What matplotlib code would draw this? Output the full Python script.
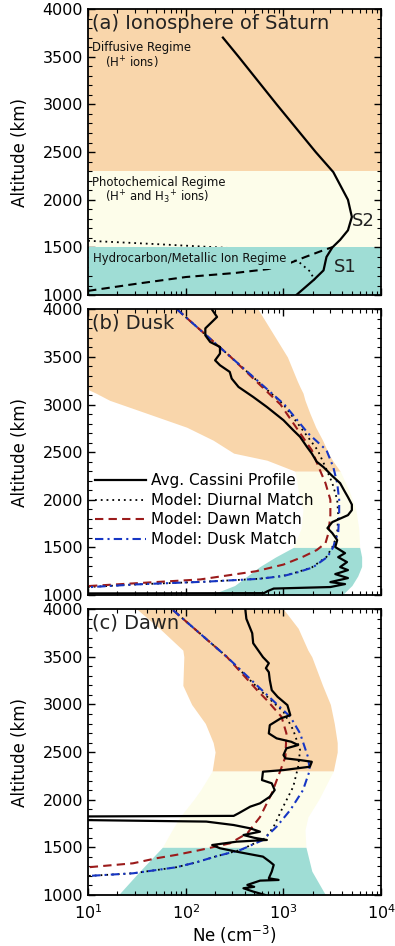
import numpy as np
import matplotlib
matplotlib.use("Agg")
import matplotlib.pyplot as plt
from matplotlib.ticker import LogLocator, MultipleLocator, NullFormatter

plt.rcParams['font.family'] = ['DejaVu Sans']
plt.rcParams['mathtext.fontset'] = 'dejavusans'

# colours of the regimes and model lines
ORANGE = '#F9D6AB'
CREAM = '#FDFDEA'
TEAL = '#9FDDD5'
DARKRED = '#9B1B1B'
BLUE = '#1636C4'

# ---- data: (altitude km, log10 Ne) ----
# (a) generic profile
a_solid = [(3700, 2.38), (3500, 2.54), (3000, 2.93), (2500, 3.33), (2290, 3.51),
           (2000, 3.66), (1820, 3.70), (1680, 3.66), (1580, 3.58), (1500, 3.50),
           (1400, 3.44), (1260, 3.41), (1160, 3.31), (1000, 3.13)]
a_dot = [(1570, 1.0), (1535, 1.7), (1496, 2.42), (1440, 2.9), (1346, 3.16),
         (1250, 3.27), (1157, 3.32)]
a_dash = [(1045, 1.0), (1120, 1.5), (1190, 2.0), (1232, 2.5), (1273, 2.84),
          (1330, 3.05), (1399, 3.22), (1460, 3.38), (1503, 3.50)]

# (b) dusk
b_cassini = [(3995, 2.27), (3920, 2.32), (3800, 2.20), (3727, 2.20), (3657, 2.25),
             (3605, 2.35), (3535, 2.35), (3465, 2.30), (3413, 2.35), (3343, 2.45),
             (3273, 2.47), (3185, 2.54), (3080, 2.69), (2975, 2.83), (2836, 3.00),
             (2731, 3.10), (2661, 3.17), (2556, 3.24), (2486, 3.29), (2400, 3.34),
             (2343, 3.41), (2250, 3.50), (2175, 3.58), (2100, 3.62), (2028, 3.66),
             (1950, 3.70), (1892, 3.70), (1839, 3.66), (1766, 3.50), (1703, 3.45),
             (1650, 3.50), (1577, 3.55), (1504, 3.53), (1440, 3.63), (1398, 3.56),
             (1346, 3.65), (1294, 3.58), (1262, 3.66), (1220, 3.53), (1178, 3.66),
             (1136, 3.48), (1115, 3.63), (1084, 3.48), (1068, 2.90), (1042, 2.84),
             (1020, 2.80), (1016, 0.5)]
b_diurnal = [(4000, 1.91), (3500, 2.46), (3000, 3.00), (2700, 3.22), (2521, 3.35),
             (2343, 3.43), (2175, 3.50), (2000, 3.55), (1840, 3.56), (1650, 3.55),
             (1577, 3.53), (1504, 3.50), (1400, 3.44), (1290, 3.29), (1240, 3.14),
             (1200, 2.99), (1170, 2.74), (1140, 2.20), (1112, 1.50), (1084, 1.0)]
b_dawn = [(4000, 1.91), (3500, 2.46), (3000, 2.97), (2700, 3.17), (2521, 3.29),
          (2343, 3.36), (2175, 3.43), (2000, 3.48), (1840, 3.48), (1650, 3.46),
          (1545, 3.43), (1472, 3.34), (1402, 3.20), (1320, 3.00), (1250, 2.72),
          (1164, 2.15), (1122, 1.46), (1094, 1.0)]
b_dusk = [(4000, 1.91), (3500, 2.46), (3000, 3.01), (2700, 3.25), (2521, 3.44),
          (2343, 3.51), (2175, 3.55), (2000, 3.57), (1840, 3.57), (1650, 3.56),
          (1577, 3.53), (1504, 3.51), (1400, 3.45), (1290, 3.30), (1240, 3.15),
          (1200, 3.00), (1170, 2.75), (1140, 2.20), (1112, 1.50), (1082, 1.0)]
# shaded ranges: (altitude, left log10 Ne, right log10 Ne)
b_orange = [(4000, 0.5, 2.74), (3500, 0.5, 3.04), (3250, 0.5, 3.14), (3182, 0.95, 3.17),
            (3120, 1.08, 3.20), (3045, 1.22, 3.22), (2909, 1.60, 3.27), (2762, 2.01, 3.33),
            (2626, 2.28, 3.40), (2490, 2.49, 3.46), (2416, 2.83, 3.50), (2300, 3.12, 3.58)]
b_cream = [(2300, 3.12, 3.58), (2100, 3.15, 3.67), (1900, 3.20, 3.74),
           (1700, 3.18, 3.77), (1500, 3.10, 3.78)]
b_teal = [(1500, 3.10, 3.78), (1400, 2.92, 3.80), (1300, 2.76, 3.80),
          (1200, 2.63, 3.76), (1100, 2.50, 3.70), (1000, 2.25, 3.60)]

# (c) dawn
c_cassini = [(3995, 2.61), (3900, 2.62), (3748, 2.68), (3643, 2.69), (3497, 2.79),
             (3433, 2.85), (3381, 2.82), (3339, 2.85), (3255, 2.86), (3150, 2.88),
             (3080, 2.94), (2993, 3.04), (2888, 3.07), (2853, 2.97), (2783, 2.86),
             (2696, 2.85), (2644, 2.93), (2608, 3.08), (2574, 3.15), (2539, 3.03),
             (2469, 3.00), (2434, 3.02), (2416, 3.17), (2398, 3.29), (2346, 3.27),
             (2311, 3.00), (2294, 2.79), (2206, 2.78), (2172, 2.88), (2101, 2.91),
             (2031, 2.86), (1962, 2.76), (1927, 2.66), (1857, 2.54), (1830, 2.49),
             (1822, 0.5), (1792, 0.5), (1770, 2.21), (1734, 2.49), (1699, 2.66),
             (1664, 2.76), (1629, 2.59), (1600, 2.70), (1577, 2.83), (1559, 2.52),
             (1524, 2.27), (1490, 2.35), (1454, 2.52), (1402, 2.79), (1349, 2.86),
             (1315, 2.90), (1245, 2.88), (1175, 2.85), (1157, 2.95), (1150, 2.76),
             (1105, 2.63), (1085, 2.70), (1070, 2.59), (1035, 2.69), (1000, 2.81)]
c_diurnal = [(3990, 1.87), (3500, 2.42), (3150, 2.76), (2923, 3.00), (2731, 3.10),
             (2521, 3.17), (2346, 3.15), (2136, 3.10), (1892, 2.98), (1717, 2.90),
             (1594, 2.81), (1472, 2.56), (1402, 2.30), (1340, 2.10), (1290, 1.90),
             (1227, 1.46), (1199, 1.0)]
c_dawn = [(3990, 1.87), (3500, 2.42), (3150, 2.73), (3045, 2.83), (2870, 2.98),
          (2696, 3.03), (2451, 3.02), (2311, 2.97), (2066, 2.88), (1818, 2.76),
          (1647, 2.63), (1541, 2.45), (1472, 2.15), (1420, 1.90), (1385, 1.70),
          (1332, 1.46), (1290, 1.0)]
c_dusk = [(3990, 1.87), (3500, 2.42), (3150, 2.78), (2870, 3.07), (2696, 3.17),
          (2451, 3.25), (2311, 3.27), (2101, 3.20), (1892, 3.07), (1717, 2.93),
          (1577, 2.79), (1472, 2.56), (1402, 2.30), (1340, 2.10), (1290, 1.90),
          (1227, 1.46), (1199, 1.0)]
c_orange = [(4000, 1.50, 3.00), (3800, 1.73, 3.15), (3570, 1.97, 3.25), (3500, 1.98, 3.29),
            (3200, 1.97, 3.40), (3000, 2.06, 3.48), (2800, 2.20, 3.52), (2600, 2.28, 3.55),
            (2500, 2.30, 3.55), (2300, 2.27, 3.51)]
c_cream = [(2300, 2.27, 3.51), (2100, 2.15, 3.41), (2000, 2.08, 3.36),
           (1818, 1.94, 3.25), (1682, 1.86, 3.22), (1500, 1.76, 3.23)]
c_teal = [(1500, 1.76, 3.23), (1250, 1.53, 3.29), (1000, 1.31, 3.43)]

legend_labels = ['Avg. Cassini Profile', 'Model: Diurnal Match',
                 'Model: Dawn Match', 'Model: Dusk Match']
panel_titles = ['(a) Ionosphere of Saturn', '(b) Dusk', '(c) Dawn']

SOLID = dict(color='k', lw=1.6)
DOTTED = dict(color='k', lw=1.3, ls=(0, (1, 2.2)))
DASHED = dict(color=DARKRED, lw=1.5, ls=(0, (4, 2.5)))
DASHDOT = dict(color=BLUE, lw=1.5, ls=(0, (4, 2, 1, 2)))


def prof(pairs):
    arr = np.array(pairs, dtype=float)
    return 10 ** arr[:, 1], arr[:, 0]


def shade(ax, rows, color):
    arr = np.array(rows, dtype=float)
    ax.fill_betweenx(arr[:, 0], 10 ** arr[:, 1], 10 ** arr[:, 2],
                     color=color, lw=0, zorder=0)


def setup(ax, title, bottom=False):
    ax.set_xscale('log')
    ax.set_xlim(10, 1e4)
    ax.set_ylim(1000, 4000)
    ax.xaxis.set_major_locator(LogLocator(base=10, numticks=10))
    ax.xaxis.set_minor_locator(LogLocator(base=10, subs=np.arange(2, 10), numticks=10))
    ax.xaxis.set_minor_formatter(NullFormatter())
    ax.yaxis.set_major_locator(MultipleLocator(500))
    ax.yaxis.set_minor_locator(MultipleLocator(100))
    ax.tick_params(which='both', direction='in', top=True, right=True, labelsize=11.5)
    ax.tick_params(which='major', length=5, width=1.0)
    ax.tick_params(which='minor', length=2.8, width=0.8)
    ax.tick_params(axis='x', pad=6)
    if not bottom:
        ax.set_xticklabels([])
    for s in ax.spines.values():
        s.set_linewidth(1.3)
    ax.set_ylabel('Altitude (km)', fontsize=12)
    ax.yaxis.set_label_coords(-0.2, 0.5)
    ax.text(0.012, 0.951, title, transform=ax.transAxes, fontsize=14,
            va='center', ha='left', color='#222222')


fig = plt.figure(figsize=(3.95, 9.46), dpi=100)
ax_a = fig.add_axes([0.223, 0.688, 0.742, 0.3025])
ax_b = fig.add_axes([0.223, 0.371, 0.742, 0.302])
ax_c = fig.add_axes([0.223, 0.054, 0.742, 0.302])

# ---- (a) ----
setup(ax_a, panel_titles[0])
ax_a.axhspan(2300, 4000, color=ORANGE, lw=0, zorder=0)
ax_a.axhspan(1500, 2300, color=CREAM, lw=0, zorder=0)
ax_a.axhspan(1000, 1500, color=TEAL, lw=0, zorder=0)
ax_a.plot(*prof(a_dot), **DOTTED)
ax_a.plot(*prof(a_dash), color='k', lw=1.5, ls=(0, (4, 2.5)))
ax_a.plot(*prof(a_solid), **SOLID)
small = dict(transform=ax_a.transAxes, fontsize=8.4, ha='left', va='center', color='#111111')
ax_a.text(0.012, 0.864, 'Diffusive Regime', **small)
ax_a.text(0.058, 0.811, '(H$^{+}$ ions)', **small)
ax_a.text(0.012, 0.395, 'Photochemical Regime', **small)
ax_a.text(0.058, 0.343, '(H$^{+}$ and H$_{3}$$^{+}$ ions)', **small)
ax_a.text(0.018, 0.129, 'Hydrocarbon/Metallic Ion Regime', zorder=5,
          bbox=dict(boxstyle='square,pad=0.4', fc=TEAL, ec='none'), **small)
ax_a.text(5000, 1775, 'S2', fontsize=13, ha='left', va='center', color='#222222')
ax_a.text(3250, 1300, 'S1', fontsize=13, ha='left', va='center', color='#222222')

# ---- (b) ----
setup(ax_b, panel_titles[1])
shade(ax_b, b_orange, ORANGE)
shade(ax_b, b_cream, CREAM)
shade(ax_b, b_teal, TEAL)
l2, = ax_b.plot(*prof(b_diurnal), **DOTTED)
l3, = ax_b.plot(*prof(b_dawn), **DASHED)
l4, = ax_b.plot(*prof(b_dusk), **DASHDOT)
l1, = ax_b.plot(*prof(b_cassini), **SOLID)
ax_b.legend([l1, l2, l3, l4], legend_labels, loc='upper left',
            bbox_to_anchor=(0.022, 0.426), frameon=False, fontsize=11,
            handlelength=3.4, handletextpad=0.3, labelspacing=0.3,
            borderpad=0, borderaxespad=0)

# ---- (c) ----
setup(ax_c, panel_titles[2], bottom=True)
shade(ax_c, c_orange, ORANGE)
shade(ax_c, c_cream, CREAM)
shade(ax_c, c_teal, TEAL)
ax_c.plot(*prof(c_diurnal), **DOTTED)
ax_c.plot(*prof(c_dawn), **DASHED)
ax_c.plot(*prof(c_dusk), **DASHDOT)
ax_c.plot(*prof(c_cassini), **SOLID)
ax_c.set_xlabel('Ne (cm$^{-3}$)', fontsize=12)
ax_c.xaxis.set_label_coords(0.5, -0.1)

fig.savefig('out.png', dpi=100)
